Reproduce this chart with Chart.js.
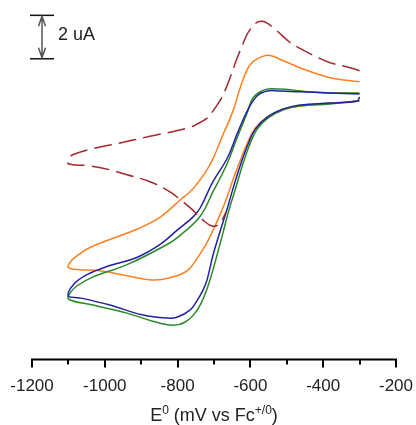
<!DOCTYPE html>
<html>
<head>
<meta charset="utf-8">
<title>Cyclic voltammograms</title>
<script src="https://cdn.jsdelivr.net/npm/chart.js@4.4.0/dist/chart.umd.min.js"></script>
<style>
  html, body { margin: 0; padding: 0; background: #fff; }
  #wrap { width: 416px; height: 425px; }
</style>
</head>
<body>
<div id="wrap"><canvas id="cv" width="416" height="425"></canvas></div>
<script>
// potential (mV vs Fc+/0) and current (uA, arbitrary offset)
const redE = [-300, -326, -381, -409, -464, -491, -532, -554, -568, -582, -596, -609, -620, -637, -656, -670, -684, -703, -719, -747, -774, -876, -964, -1032, -1087, -1098, -1100, -1049, -986, -939, -876, -821, -785, -758, -730, -703, -684, -667];
const redI = [13.30, 13.44, 13.67, 13.86, 14.33, 14.60, 15.21, 15.49, 15.58, 15.53, 15.30, 14.98, 14.56, 13.86, 12.98, 12.37, 11.91, 11.44, 11.12, 10.84, 10.65, 10.28, 9.95, 9.72, 9.44, 9.26, 9.02, 8.93, 8.74, 8.51, 8.19, 7.72, 7.26, 6.88, 6.42, 6.14, 6.28, 6.79];

const orangeE = [-300, -381, -464, -511, -546, -568, -593, -609, -629, -648, -675, -711, -758, -793, -848, -912, -986, -1041, -1076, -1096, -1100, -1068, -1013, -939, -868, -821, -774, -747, -719, -703, -684, -664, -648, -629, -609, -587, -554, -511, -464, -381, -300];
const orangeI = [12.79, 12.98, 13.44, 13.77, 14.00, 13.95, 13.72, 13.35, 12.47, 11.44, 10.37, 8.98, 7.86, 7.35, 6.56, 6.00, 5.53, 5.16, 4.79, 4.47, 4.23, 4.14, 4.09, 3.86, 3.67, 3.77, 4.09, 4.65, 5.40, 5.95, 6.65, 7.49, 8.28, 9.12, 9.95, 10.65, 11.16, 11.53, 11.67, 11.81, 11.91];

const blueE = [-300, -381, -464, -519, -554, -582, -609, -637, -664, -703, -738, -758, -802, -848, -912, -986, -1049, -1087, -1100, -1068, -986, -895, -829, -802, -766, -747, -730, -719, -703, -684, -664, -648, -629, -609, -587, -554, -511, -464, -381, -307, -300];
const blueI = [12.23, 12.28, 12.33, 12.37, 12.37, 12.14, 11.44, 10.37, 9.26, 8.19, 6.98, 6.56, 5.95, 5.30, 4.70, 4.33, 3.91, 3.44, 2.93, 2.84, 2.51, 2.05, 1.91, 1.95, 2.28, 2.70, 3.21, 3.67, 4.79, 5.86, 6.93, 7.86, 8.88, 9.81, 10.60, 11.16, 11.53, 11.72, 11.81, 11.91, 12.09];

const greenE = [-300, -381, -445, -491, -546, -568, -593, -609, -637, -664, -703, -738, -793, -829, -939, -1032, -1076, -1093, -1100, -1032, -939, -868, -813, -780, -752, -730, -711, -692, -675, -659, -642, -623, -604, -582, -552, -511, -464, -381, -300];
const greenI = [12.28, 12.28, 12.33, 12.42, 12.47, 12.37, 12.05, 11.35, 10.19, 9.02, 7.72, 6.60, 5.72, 5.30, 4.37, 3.81, 3.40, 3.12, 2.79, 2.51, 2.14, 1.77, 1.58, 1.72, 2.14, 2.79, 3.67, 4.79, 5.86, 6.88, 7.81, 8.88, 9.81, 10.60, 11.12, 11.49, 11.67, 11.77, 11.91];

const majorTicks = [-1200, -1000, -800, -600, -400, -200];
const minorTicks = [-1100, -900, -700, -500, -300];
const scaleBar = [13.85, 15.85];   // 2 uA
const scaleBarLabel = '2 uA';

function pts(xs, ys) {
    return xs.map((x, i) => ({ x: x, y: ys[i] }));
}

const FONT = "'Liberation Sans', Arial, sans-serif";

// tick marks, scale bar and the axis title with superscripts
const extras = {
    id: 'extras',
    afterDraw(chart) {
        const ctx = chart.ctx;
        const xs = chart.scales.x, ys = chart.scales.y;
        const axisY = chart.chartArea.bottom;
        ctx.save();

        ctx.strokeStyle = '#000';
        ctx.lineWidth = 2;
        ctx.beginPath();
        ctx.moveTo(xs.getPixelForValue(-1200) - 1, axisY);
        ctx.lineTo(xs.getPixelForValue(-200) + 1, axisY);
        ctx.stroke();
        majorTicks.forEach(v => {
            const px = Math.round(xs.getPixelForValue(v));
            ctx.beginPath();
            ctx.moveTo(px, axisY);
            ctx.lineTo(px, axisY + 8);
            ctx.stroke();
        });
        minorTicks.forEach(v => {
            const px = Math.round(xs.getPixelForValue(v));
            ctx.beginPath();
            ctx.moveTo(px, axisY);
            ctx.lineTo(px, axisY + 5);
            ctx.stroke();
        });

        // scale bar
        const top = ys.getPixelForValue(scaleBar[1]);
        const bot = ys.getPixelForValue(scaleBar[0]);
        const bx = 42;
        ctx.lineWidth = 1.5;
        ctx.strokeStyle = '#111';
        [top, bot].forEach(y => {
            ctx.beginPath();
            ctx.moveTo(30, y);
            ctx.lineTo(54, y);
            ctx.stroke();
        });
        ctx.strokeStyle = '#555';
        ctx.beginPath();
        ctx.moveTo(bx, top + 1);
        ctx.lineTo(bx, bot - 1);
        ctx.moveTo(bx - 3.5, top + 11);
        ctx.lineTo(bx, top + 1);
        ctx.lineTo(bx + 3.5, top + 11);
        ctx.moveTo(bx - 3.5, bot - 11);
        ctx.lineTo(bx, bot - 1);
        ctx.lineTo(bx + 3.5, bot - 11);
        ctx.stroke();

        ctx.fillStyle = '#222';
        ctx.textBaseline = 'alphabetic';
        ctx.textAlign = 'left';
        ctx.font = '18px ' + FONT;
        ctx.fillText(scaleBarLabel, 58, (top + bot) / 2 + 3);

        // x axis title: E^0 (mV vs Fc^+/0)
        const parts = [['E', false], ['0', true], [' (mV vs Fc', false], ['+/0', true], [')', false]];
        const mainFont = '18px ' + FONT, supFont = '12px ' + FONT;
        let total = 0;
        parts.forEach(p => {
            ctx.font = p[1] ? supFont : mainFont;
            total += ctx.measureText(p[0]).width;
        });
        let x = (chart.chartArea.left + chart.chartArea.right) / 2 - total / 2;
        const base = 421;
        parts.forEach(p => {
            ctx.font = p[1] ? supFont : mainFont;
            ctx.fillText(p[0], x, p[1] ? base - 7 : base);
            x += ctx.measureText(p[0]).width;
        });
        ctx.restore();
    }
};

const common = { fill: false, pointRadius: 0, borderWidth: 1.5, tension: 0.4, showLine: true };

new Chart(document.getElementById('cv'), {
    type: 'scatter',
    data: {
        datasets: [
            Object.assign({ label: 'red', data: pts(redE, redI), borderColor: '#a3282c', borderDash: [18, 7] }, common),
            Object.assign({ label: 'blue', data: pts(blueE, blueI), borderColor: '#2222a0' }, common),
            Object.assign({ label: 'green', data: pts(greenE, greenI), borderColor: '#2a8a2a' }, common),
            Object.assign({ label: 'orange', data: pts(orangeE, orangeI), borderColor: '#ff8020' }, common)
        ]
    },
    options: {
        responsive: false,
        animation: false,
        layout: { padding: { left: 32, right: 20, top: 6, bottom: 28 } },
        plugins: { legend: { display: false }, tooltip: { enabled: false } },
        scales: {
            x: {
                type: 'linear',
                min: -1200,
                max: -200,
                border: { display: false },
                grid: { display: false, drawTicks: true, tickLength: 17 },
                ticks: {
                    stepSize: 200,
                    color: '#222',
                    padding: 0,
                    maxRotation: 0,
                    font: { size: 17, family: FONT },
                    callback: v => String(v)
                }
            },
            y: {
                display: false,
                min: 0,
                max: 16.28
            }
        }
    },
    plugins: [extras]
});
</script>
</body>
</html>
